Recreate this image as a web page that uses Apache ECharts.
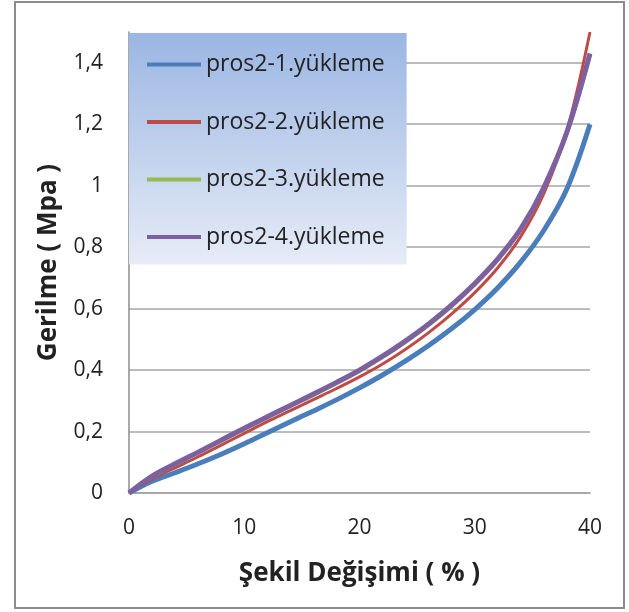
<!DOCTYPE html>
<html>
<head>
<meta charset="utf-8">
<title>Gerilme - Şekil Değişimi</title>
<script src="https://cdn.jsdelivr.net/npm/echarts@6/dist/echarts.min.js"></script>
<style>
    html, body { margin: 0; padding: 0; background: #fff; }
    #main { width: 629px; height: 612px; }
</style>
</head>
<body>
<div id="main"></div>
<script>
// x değerleri (Şekil Değişimi, %)
var xs = [0, 2, 4, 6, 8, 10, 12, 14, 16, 18, 20, 22, 24, 26, 28, 30, 32, 34, 36, 38, 40];

// Gerilme (Mpa) - her yükleme için
var pros1 = [0, 0.038, 0.066, 0.095, 0.126, 0.16, 0.196, 0.232, 0.267, 0.303, 0.342, 0.384, 0.43, 0.48, 0.535, 0.597, 0.668, 0.752, 0.855, 0.99, 1.2];
var pros2 = [0, 0.046, 0.082, 0.118, 0.156, 0.194, 0.232, 0.268, 0.304, 0.34, 0.378, 0.42, 0.468, 0.522, 0.583, 0.652, 0.733, 0.835, 0.975, 1.18, 1.5];
var pros3 = [0, 0.052, 0.091, 0.129, 0.167, 0.206, 0.244, 0.281, 0.317, 0.355, 0.395, 0.44, 0.49, 0.545, 0.606, 0.676, 0.756, 0.855, 0.99, 1.17, 1.42];
var pros4 = [0, 0.055, 0.095, 0.133, 0.172, 0.211, 0.248, 0.285, 0.322, 0.36, 0.4, 0.445, 0.495, 0.55, 0.612, 0.682, 0.762, 0.86, 0.995, 1.175, 1.43];

var names = ['pros2-1.yükleme', 'pros2-2.yükleme', 'pros2-3.yükleme', 'pros2-4.yükleme'];
var colors = ['#4A7EBB', '#BE4B48', '#98B954', '#7D60A0'];
var widths = [5, 3, 3, 5];

function pairs(ys) {
    var out = [];
    for (var i = 0; i < xs.length; i++) {
        out.push([xs[i], ys[i]]);
    }
    return out;
}

var font = '"Open Sans", Lato, sans-serif';
var myChart = echarts.init(document.getElementById('main'));

var allData = [pros1, pros2, pros3, pros4];
var series = [];
for (var i = 0; i < allData.length; i++) {
    series.push({
        name: names[i],
        type: 'line',
        smooth: 0.35,
        showSymbol: false,
        lineStyle: { color: colors[i], width: widths[i] },
        itemStyle: { color: colors[i] },
        data: pairs(allData[i])
    });
}

myChart.setOption({
    animation: false,
    graphic: [{
        type: 'rect',
        shape: { x: 15, y: 2, width: 609, height: 606 },
        style: { fill: 'none', stroke: '#8c8c8c', lineWidth: 2 },
        silent: true
    }],
    grid: { left: 129, right: 39, top: 32, bottom: 119 },
    legend: {
        orient: 'vertical',
        left: 129,
        top: 33,
        padding: [20, 22, 16, 18],
        itemGap: 34.5,
        itemWidth: 54,
        itemHeight: 4,
        icon: 'rect',
        backgroundColor: new echarts.graphic.LinearGradient(0, 0, 0, 1, [
            { offset: 0, color: '#9BB6E3' },
            { offset: 1, color: '#E6ECF7' }
        ]),
        textStyle: { fontFamily: font, fontSize: 23, color: '#222', lineHeight: 22 },
        data: names
    },
    xAxis: {
        type: 'value',
        min: 0,
        max: 40,
        interval: 10,
        name: 'Şekil Değişimi ( % )',
        nameLocation: 'middle',
        nameGap: 68,
        nameTextStyle: { fontFamily: font, fontSize: 26, fontWeight: 'bold', color: '#222' },
        axisLine: { show: true, lineStyle: { color: '#8c8c8c', width: 1.5 } },
        axisTick: { show: false },
        splitLine: { show: false },
        axisLabel: { margin: 25, fontFamily: font, fontSize: 21, color: '#222' }
    },
    yAxis: {
        type: 'value',
        min: 0,
        max: 1.5,
        interval: 0.2,
        name: 'Gerilme ( Mpa )',
        nameLocation: 'middle',
        nameGap: 67,
        nameTextStyle: { fontFamily: font, fontSize: 26, fontWeight: 'bold', color: '#222' },
        axisLine: { show: true, lineStyle: { color: '#8c8c8c', width: 1.5 } },
        axisTick: { show: false },
        splitLine: { show: true, showMaxLine: false, showMinLine: false, lineStyle: { color: '#a6a6a6', width: 1.5 } },
        axisLabel: {
            margin: 26,
            showMaxLabel: false,
            fontFamily: font,
            fontSize: 21,
            color: '#222',
            formatter: function(v) {
                return String(Math.round(v * 10) / 10).replace('.', ',');
            }
        }
    },
    series: series
});
</script>
</body>
</html>
